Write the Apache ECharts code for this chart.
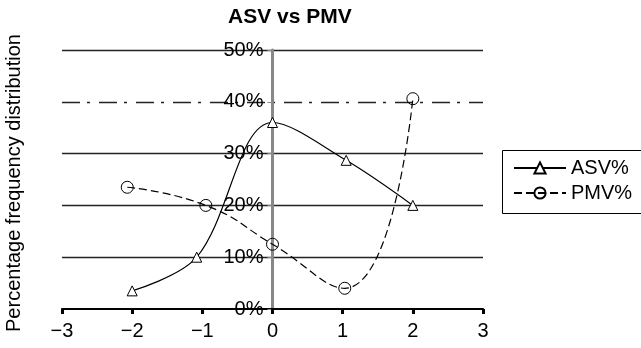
<!DOCTYPE html>
<html>
<head>
<meta charset="utf-8">
<script src="https://cdn.jsdelivr.net/npm/echarts@6/dist/echarts.min.js"></script>
<style>html,body{margin:0;padding:0;background:#fff}#c{width:641px;height:348px}</style>
</head>
<body>
<div id="c"></div>
<script>
var titleText = 'ASV vs PMV';
var yAxisTitle = 'Percentage frequency distribution';
var asvX = [-2, -1.08, 0, 1.05, 2];
var asvY = [3.5, 10, 36, 28.7, 20];
var pmvX = [-2.07, -0.95, 0, 1.03, 2];
var pmvY = [23.5, 20, 12.5, 4, 40.6];
var seriesNames = ['ASV%', 'PMV%'];

function pairs(xs, ys) { return xs.map(function (x, i) { return [x, ys[i]]; }); }

var font = 'Liberation Sans, Arial, sans-serif';
var gridLeft = 62, gridRight = 158;
var plotW = 641 - gridLeft - gridRight;
var chart = echarts.init(document.getElementById('c'), null, {renderer: 'canvas'});
chart.setOption({
  animation: false,
  backgroundColor: '#fff',
  title: {
    text: titleText, left: 223, top: 2, padding: 5,
    textStyle: {fontFamily: font, fontSize: 21, fontWeight: 'bold', color: '#000'}
  },
  graphic: [{
    type: 'text', x: 14, y: 183, rotation: Math.PI / 2,
    style: {text: yAxisTitle, fontFamily: font, fontSize: 20, fill: '#000', align: 'center', verticalAlign: 'middle'}
  }, {
    type: 'rect', shape: {x: 502.5, y: 150.5, width: 160, height: 63},
    style: {fill: 'none', stroke: '#000', lineWidth: 1}, z: 10
  }],
  legend: {
    orient: 'vertical', left: 502, top: 150,
    padding: [8, 10, 10, 11], itemGap: 5, itemWidth: 52, itemHeight: 14,
    borderWidth: 0,
    textStyle: {fontFamily: font, fontSize: 20, color: '#000'},
    data: seriesNames
  },
  grid: {left: gridLeft, right: gridRight, top: 50, bottom: 39},
  xAxis: {
    type: 'value', min: -3, max: 3, interval: 1,
    axisLine: {show: true, onZero: true, lineStyle: {color: '#000', width: 2}},
    axisTick: {show: true, inside: false, length: 5, lineStyle: {color: '#000', width: 3}},
    axisLabel: {margin: 12, fontFamily: font, fontSize: 20, color: '#000',
      formatter: function (v) { return v < 0 ? '\u2212' + Math.abs(v) : String(v); }},
    splitLine: {show: false}
  },
  yAxis: [{
    type: 'value', min: 0, max: 50, interval: 10, position: 'left',
    offset: -plotW / 2,
    axisLine: {show: true, onZero: false, lineStyle: {color: '#888', width: 3}},
    axisTick: {show: true, inside: false, length: 5, lineStyle: {color: '#888', width: 1}},
    axisLabel: {margin: 9, fontFamily: font, fontSize: 20, color: '#000', formatter: '{value}%'},
    splitLine: {show: true, lineStyle: {color: ['transparent', '#222', '#222', '#222', 'transparent', '#222'], width: 1.3}}
  }, {
    type: 'value', min: 0, max: 50, interval: 10, position: 'right',
    axisLine: {show: false}, axisTick: {show: false}, axisLabel: {show: false},
    splitLine: {show: true, lineStyle: {color: ['transparent', 'transparent', 'transparent', 'transparent', '#222', 'transparent'], width: 1.3, type: [18, 7, 3, 9]}}
  }],
  series: [{
    name: seriesNames[0], type: 'line', smooth: 0.35,
    data: pairs(asvX, asvY),
    symbol: 'triangle', symbolSize: 10,
    lineStyle: {color: '#000', width: 1.2},
    itemStyle: {color: '#fff', borderColor: '#000', borderWidth: 1}
  }, {
    name: seriesNames[1], type: 'line', smooth: 0.5,
    data: pairs(pmvX, pmvY),
    symbol: 'circle', symbolSize: 12,
    lineStyle: {color: '#000', width: 1.2, type: [8, 4]},
    itemStyle: {color: 'rgba(255,255,255,0)', borderColor: '#000', borderWidth: 1}
  }]
});
</script>
</body>
</html>
